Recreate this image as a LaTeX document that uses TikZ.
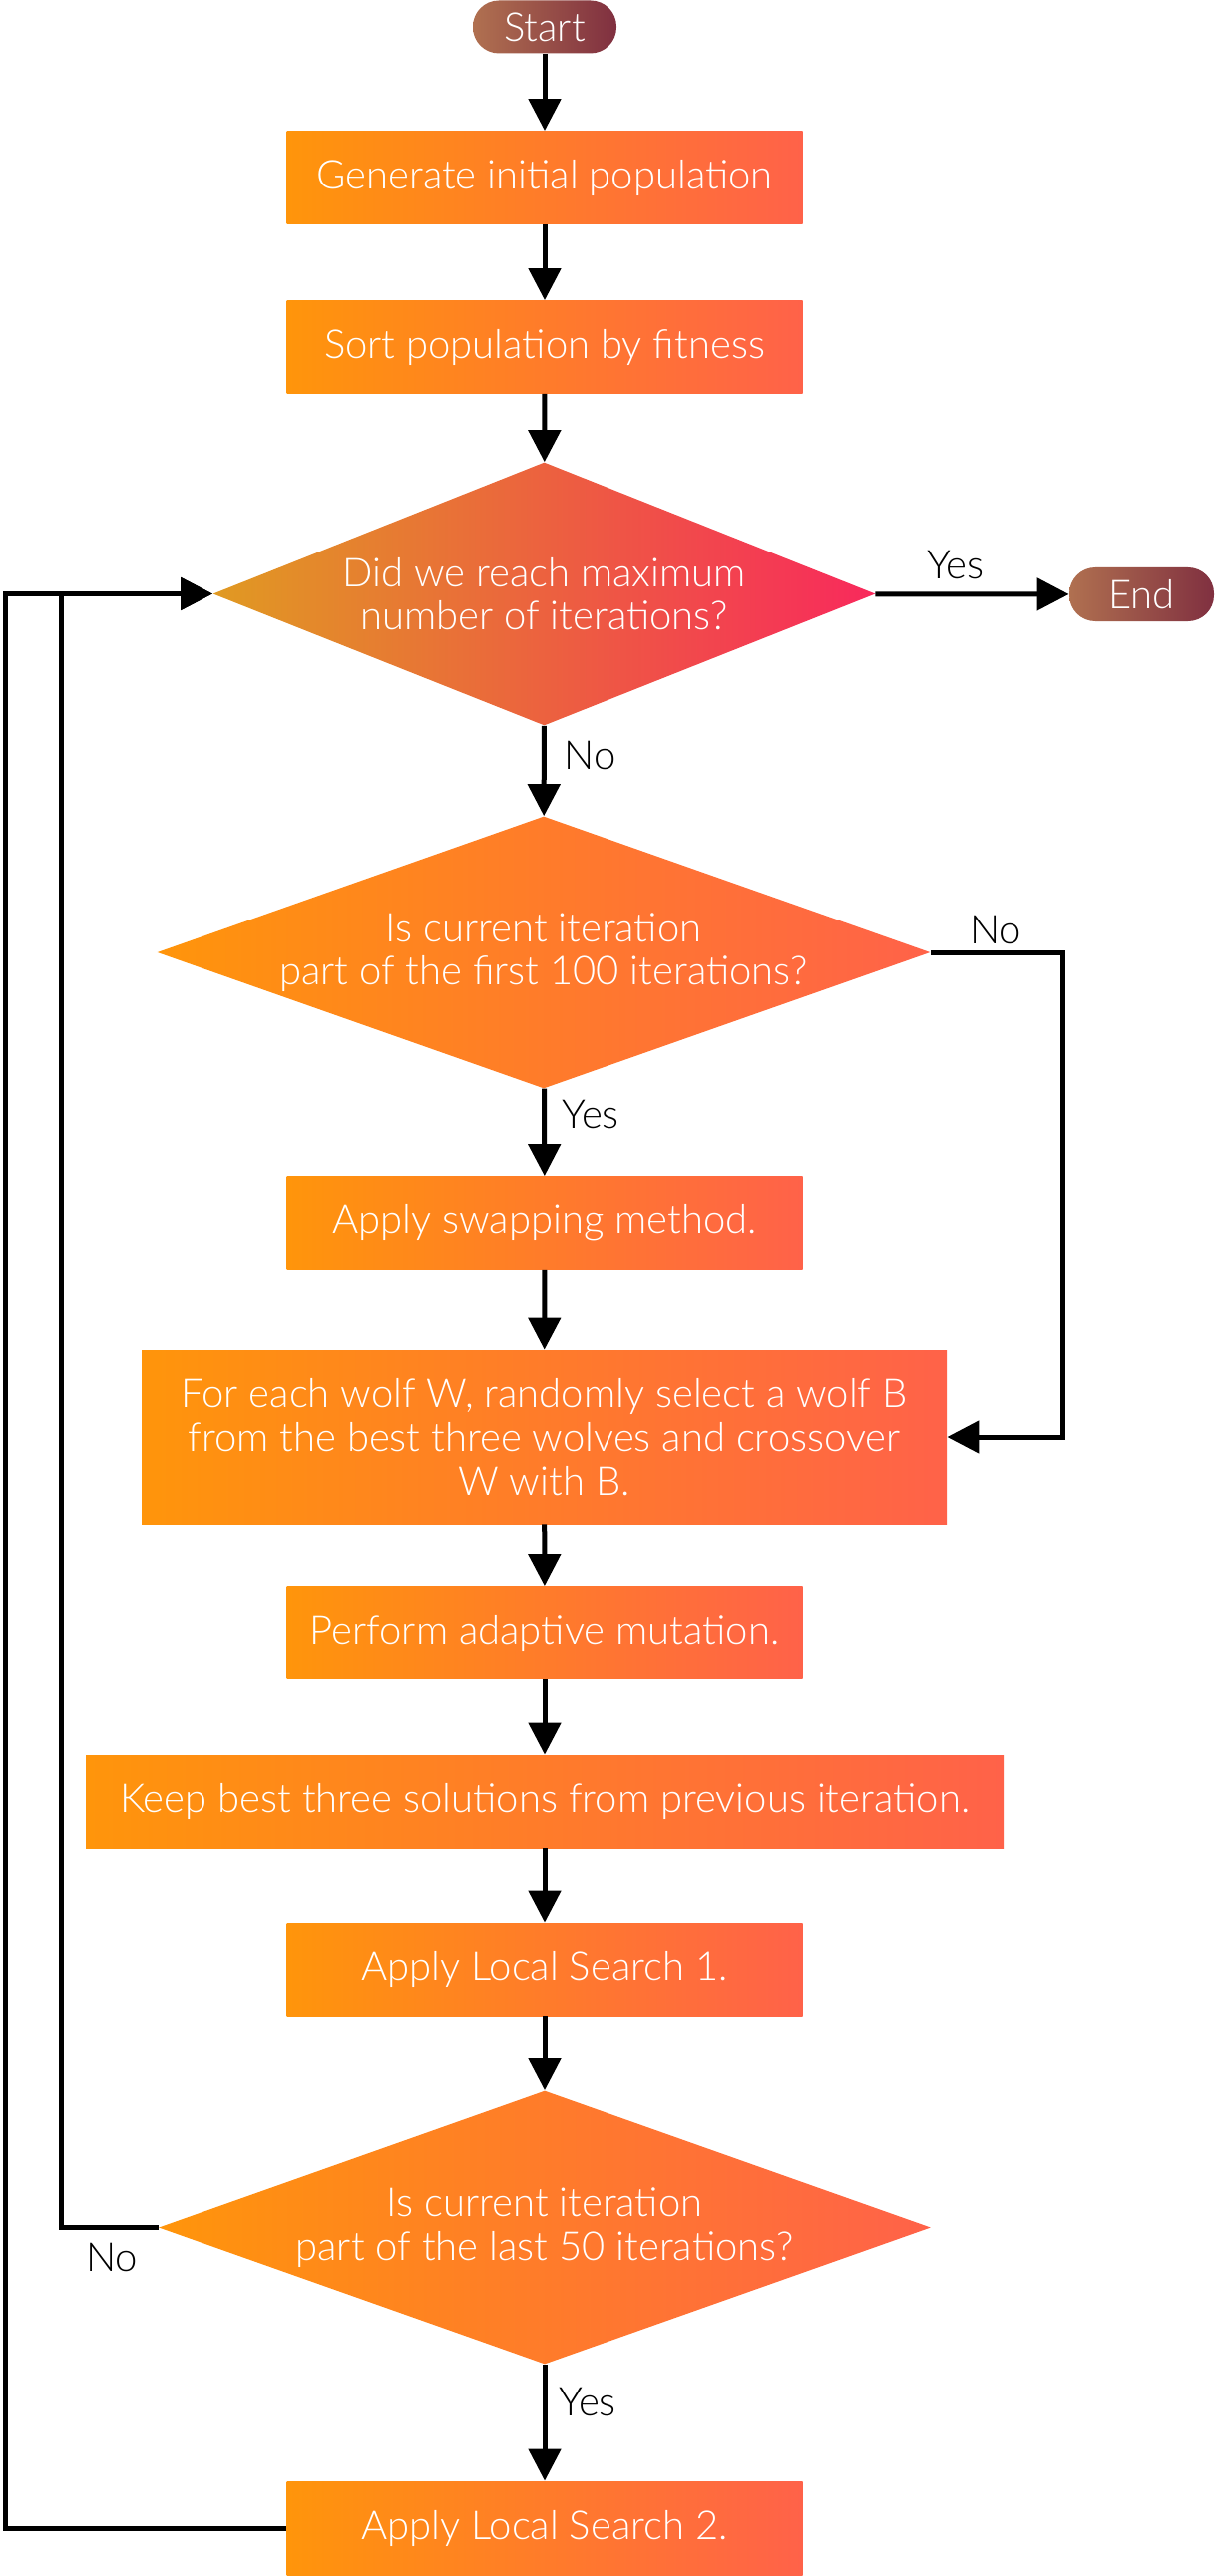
\documentclass[tikz,border=0pt]{standalone}
\usepackage{fontspec}
\setmainfont{Lato Light}
\usetikzlibrary{shapes.geometric,arrows.meta}
\definecolor{boxL}{HTML}{FF950B}
\definecolor{boxR}{HTML}{FF6249}
\definecolor{dL}{HTML}{E09A22}
\definecolor{dR}{HTML}{F8295C}
\definecolor{pL}{HTML}{B07050}
\definecolor{pR}{HTML}{803040}
\tikzset{
  txt/.style={font=\fontsize{20}{21.8}\selectfont, text=white, align=center},
  pill/.style={txt, rounded corners=13pt, left color=pL, right color=pR, minimum width=72pt, minimum height=26.5pt, inner sep=0pt},
  procbox/.style={txt, rectangle, left color=boxL, right color=boxR, minimum width=258.5pt, minimum height=46.5pt, inner sep=0pt},
  decis/.style={txt, diamond, left color=boxL, right color=boxR, inner sep=0pt},
  conn/.style={line width=2.5pt, -{Triangle[length=16pt,width=16pt]}},
  lbl/.style={font=\fontsize{20}{21.8}\selectfont, text=black, inner sep=0pt}
}
\begin{document}
\begin{tikzpicture}[x=0.5pt,y=-0.5pt]
\useasboundingbox (0,0) rectangle (1217,2583);
% nodes
\node[pill] (start) at (546,27) {Start};
\node[procbox] (b1) at (546,178) {Generate initial population};
\node[procbox] (b2) at (546,348) {Sort population by fitness};
\node[decis, left color=dL, right color=dR, aspect=2.5, minimum width=332pt, minimum height=132pt] (d1) at (545.5,595.5) {Did we reach maximum\\number of iterations?};
\node[pill, minimum width=72.5pt, minimum height=27pt] (endn) at (1144.5,596) {End};
\node[decis, aspect=2.85, minimum width=387.5pt, minimum height=136.5pt] (d2) at (545,955) {Is current iteration\\part of the first 100 iterations?};
\node[procbox] (b3) at (546,1226) {Apply swapping method.};
\node[procbox, minimum width=403.5pt, minimum height=87pt] (b4) at (545.5,1441) {For each wolf W, randomly select a wolf B\\from the best three wolves and crossover\\W with B.};
\node[procbox] (b5) at (546,1637) {Perform adaptive mutation.};
\node[procbox, minimum width=460pt] (b6) at (546,1806.5) {Keep best three solutions from previous iteration.};
\node[procbox] (b7) at (546,1974.5) {Apply Local Search 1.};
\node[decis, aspect=2.83, minimum width=387pt, minimum height=137pt] (d3) at (546,2233.5) {Is current iteration\\part of the last 50 iterations?};
\node[procbox, minimum height=47.5pt] (b8) at (546,2535.5) {Apply Local Search 2.};
% helper coordinates
\coordinate (rn) at (1065,955);
\coordinate (ln) at (61,2233.5);
\coordinate (lo) at (5,2535.5);
% connectors
\draw[conn] (start) -- (b1);
\draw[conn] (b1) -- (b2);
\draw[conn] (b2) -- (d1);
\draw[conn] (d1) -- (endn);
\draw[conn] (d1) -- (d2);
\draw[conn] (d2) -- (b3);
\draw[conn] (d2.east) -- (rn) |- (b4.east);
\draw[conn] (b3) -- (b4);
\draw[conn] (b4) -- (b5);
\draw[conn] (b5) -- (b6);
\draw[conn] (b6) -- (b7);
\draw[conn] (b7) -- (d3);
\draw[conn] (d3) -- (b8);
\draw[conn] (d3.west) -- (ln) |- (d1.west);
\draw[conn] (b8.west) -- (lo) |- (d1.west);
% labels
\node[lbl] (y1) at (958,567) {Yes};
\node[lbl, anchor=west] (n1) at (565,757) {No};
\node[lbl] (n2) at (998,932) {No};
\node[lbl, anchor=west] (y2) at (563,1118) {Yes};
\node[lbl] (n3) at (112,2263) {No};
\node[lbl, anchor=west] (y3) at (560,2408) {Yes};
\end{tikzpicture}
\end{document}
